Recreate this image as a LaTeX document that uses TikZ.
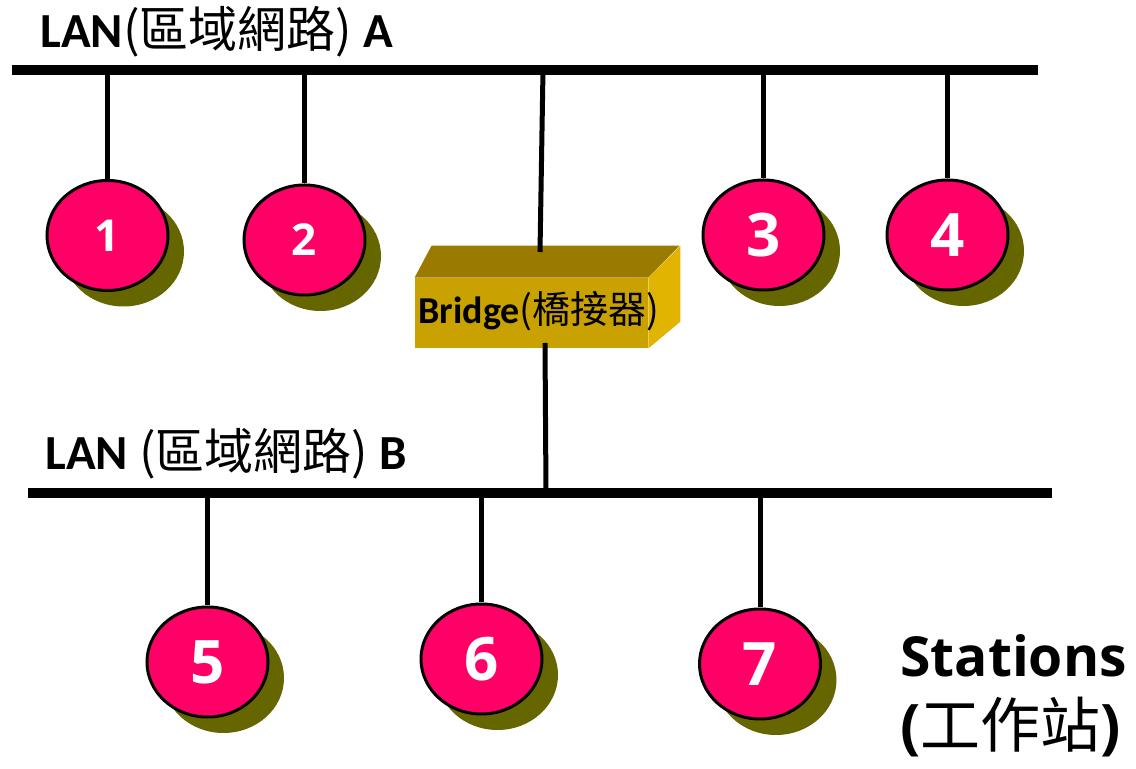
\documentclass[tikz,border=0pt]{standalone}
\usepackage{fontspec}
\setmainfont{Carlito}
\newfontfamily\cjk{Noto Sans CJK TC}
\newfontfamily\digits{Open Sans}
\usetikzlibrary{shapes.geometric,shadows}
\definecolor{stationpink}{HTML}{FF0066}
\definecolor{shadowolive}{HTML}{666600}
\definecolor{bridgefront}{HTML}{C9A100}
\definecolor{bridgetop}{HTML}{9A7B00}
\definecolor{bridgeside}{HTML}{E0B400}

\begin{document}
\begin{tikzpicture}[x=0.5pt,y=-0.5pt]
  \tikzstyle{station} = [ellipse, draw, line width=1.5pt, fill=stationpink, text=white, minimum width=60.5pt, minimum height=55pt, inner sep=0pt, drop shadow={shadow xshift=8pt, shadow yshift=-8pt, fill=shadowolive, opacity=1}, font={\digits\bfseries\fontsize{30}{30}\selectfont}]
  \tikzstyle{smallNum} = [font={\digits\bfseries\fontsize{22}{22}\selectfont}]
  \tikzstyle{busLine} = [line width=5pt]
  \tikzstyle{dropLine} = [line width=2.5pt]
  \tikzstyle{lanLabel} = [anchor=base west, inner sep=0pt, font={\fontsize{24.5}{24.5}\selectfont}]
  \tikzstyle{bridgeFront} = [rectangle, fill=bridgefront, minimum width=116.5pt, minimum height=35pt, inner sep=0pt]

  \useasboundingbox (0,0) rectangle (1136,769);

  % buses
  \coordinate (aW) at (12,70);
  \coordinate (aE) at (1038,70);
  \coordinate (bW) at (28,493);
  \coordinate (bE) at (1052,493);
  \draw[busLine] (aW) -- (aE);
  \draw[busLine] (bW) -- (bE);

  \node[lanLabel] (labA) at (40,48) {\textbf{LAN}{\cjk (區域網路)} \textbf{A}};
  \node[lanLabel] (labB) at (45,470) {\textbf{LAN} {\cjk (區域網路)} \textbf{B}};

  % stations
  \node[station,smallNum] (s1) at (107.5,235.5) {1};
  \node[station,smallNum] (s2) at (304.5,240) {2};
  \node[station] (s3) at (763.5,235) {3};
  \node[station] (s4) at (947.5,235) {4};
  \node[station] (s5) at (207.5,662) {5};
  \node[station] (s6) at (481.5,659) {6};
  \node[station] (s7) at (760,664) {7};

  \foreach \s in {s1,s2,s3,s4}
    \draw[dropLine] (\s.north |- aW) -- (\s.north);
  \foreach \s in {s5,s6,s7}
    \draw[dropLine] (\s.north |- bW) -- (\s.north);

  % bridge
  \node[bridgeFront] (bridge) at (531.5,313) {};
  \fill[bridgetop] (bridge.north west) -- ++(17,-32) -- ++(248,0) -- (bridge.north east) -- cycle;
  \fill[bridgeside] (bridge.north east) -- ++(32,-32) -- ++(0,76) -- (bridge.south east) -- cycle;
  \node[inner sep=0pt, font={\fontsize{19}{19}\selectfont}] (bridgeLabel) at (539,311) {\textbf{Bridge}{\cjk (橋接器)}};

  \coordinate (tapA) at (543,70);
  \coordinate (bTop) at (540,252);
  \coordinate (bBot) at (545,343);
  \coordinate (tapB) at (546,493);
  \draw[dropLine] (tapA) -- (bTop);
  \draw[dropLine] (bBot) -- (tapB);

  \node[anchor=base west, inner sep=0pt, font={\digits\bfseries\fontsize{27.6}{27.6}\selectfont}] (stationsLabel) at (900,677) {Stations};
  \node[anchor=base west, inner sep=0pt, font={\digits\bfseries\fontsize{30}{30}\selectfont}] (stationsCjk) at (900,748) {({\cjk\mdseries 工作站})};
\end{tikzpicture}
\end{document}
